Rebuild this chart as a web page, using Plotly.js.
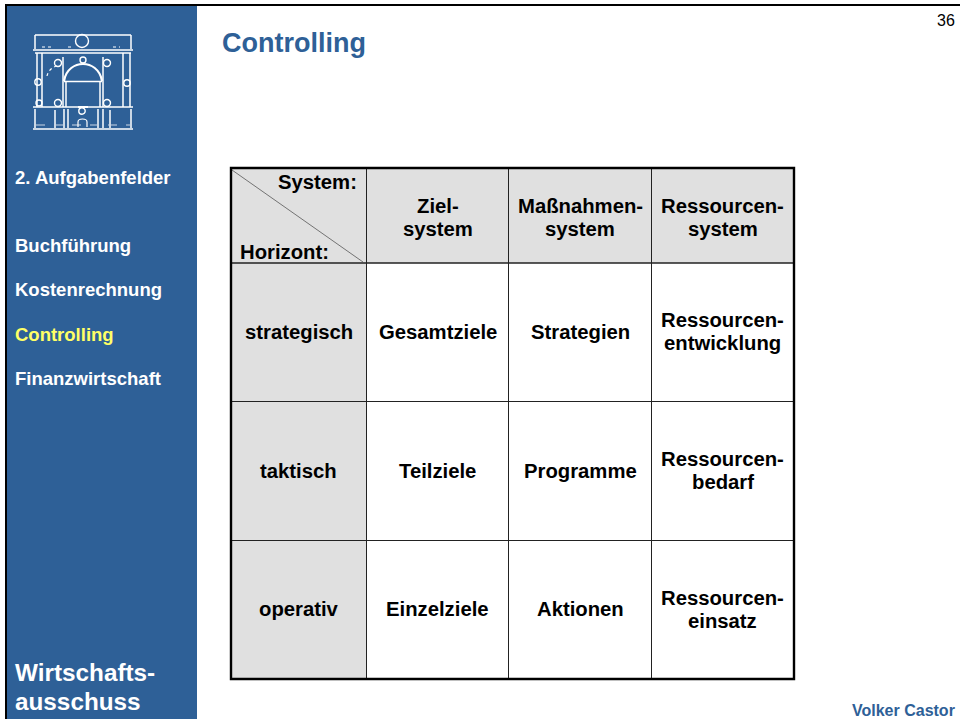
<!DOCTYPE html>
<html><head><meta charset="utf-8">
<script src="https://cdn.plot.ly/plotly-3.0.1.min.js"></script>
<style>html,body{margin:0;padding:0;background:#fff}#c{width:960px;height:719px}</style>
</head><body><div id="c"></div>
<script>
const columnHeaders = [["Ziel-","system"],["Maßnahmen-","system"],["Ressourcen-","system"]];
const rowHeaders = ["strategisch","taktisch","operativ"];
const row1 = [["Gesamtziele"],["Strategien"],["Ressourcen-","entwicklung"]];
const row2 = [["Teilziele"],["Programme"],["Ressourcen-","bedarf"]];
const row3 = [["Einzelziele"],["Aktionen"],["Ressourcen-","einsatz"]];
const navItems = ["Buchführung","Kostenrechnung","Controlling","Finanzwirtschaft"];
const navActive = "Controlling";
const sectionLabel = "2. Aufgabenfelder";
const footerLabel = ["Wirtschafts-","ausschuss"];

const xEdges=[231,366.5,508.5,651.5,794], yEdges=[168,263,401.5,540.5,679];
const BLUE='#2e6097', GREY='#e0e0e0', FS=20.3, W='#fff';
const FONT='"Liberation Sans",Arial,sans-serif';
const shapes=[], ann=[];
const rect=(x0,y0,x1,y1,fill)=>shapes.push({type:'rect',x0,y0,x1,y1,fillcolor:fill,line:{width:0},layer:'below'});
const line=(x0,y0,x1,y1,w,c,dash)=>shapes.push({type:'line',x0,y0,x1,y1,line:{color:c||'#000',width:w,dash:dash||'solid'}});
const txt=(x,y,text,size,color,anchor,weight)=>{
  const a=anchor||'center';
  ann.push({x:a==='left'?x-2:a==='right'?x+2:x,y,text,showarrow:false,xanchor:a,yanchor:'middle',align:a,
   font:{family:FONT,size,color:color||'#000',weight:weight||'bold'},xref:'x',yref:'y'});
};
const stack=(x,y,lines,gap,size,color,anchor)=>lines.forEach((t,i)=>txt(x,y+(i-(lines.length-1)/2)*gap,t,size,color,anchor));

rect(7,6,197,719,BLUE);
rect(xEdges[0],yEdges[0],xEdges[4],yEdges[1],GREY);
rect(xEdges[0],yEdges[0],xEdges[1],yEdges[4],GREY);
line(5,5,960,5,2); line(6,5,6,719,2);

for(const i of [1,2,3]){line(xEdges[i],yEdges[0],xEdges[i],yEdges[4],1,'#222');}
for(const i of [1,2,3]){line(xEdges[0],yEdges[i],xEdges[4],yEdges[i],i==1?1.6:1,'#222');}
line(232,170,363,262,0.7,'#444');
shapes.push({type:'rect',x0:xEdges[0],y0:yEdges[0],x1:xEdges[4],y1:yEdges[4],line:{color:'#000',width:2.4}});

const cx=i=>(xEdges[i]+xEdges[i+1])/2, cy=i=>(yEdges[i]+yEdges[i+1])/2;
columnHeaders.forEach((t,i)=>stack(cx(i+1),217,t,23,FS));
rowHeaders.forEach((t,i)=>txt(cx(0),cy(i+1)-0.5,t,FS));
[row1,row2,row3].forEach((r,j)=>r.forEach((t,i)=>stack(cx(i+1),cy(j+1)-0.5,t,23,FS)));
txt(357,182,'System:',FS,'#000','right');
txt(240,252,'Horizont:',FS,'#000','left');

txt(15,177.5,sectionLabel,18.5,W,'left');
navItems.forEach((t,i)=>txt(15,245+i*44.6,t,18.5,t===navActive?'#ffff66':W,'left'));
stack(15,686.5,footerLabel,29,24.3,W,'left');
txt(222,42.5,'Controlling',27,BLUE,'left');
txt(955,20,'36',16,'#000','right','normal');
txt(955,710,'Volker Castor',16,BLUE,'right');

// logo: portal outline
const logoLines=[[35,35,131,35],[35,35,35,49],[131,35,131,49],[33,50,133,50],[35,53,131,53],
[37,53,37,107],[42,53,42,107],[123,53,123,107],[130,53,130,107],[63,57,63,107],[103,57,103,107],
[64,81.5,102,81.5],[66,82,66,107],[100,82,100,107],[33,107,133,107],[35,109,35,128],[131,109,131,128],
[55,110,55,128],[64,109,64,128],[68,109,68,128],[98,109,98,128],[103,109,103,128],[110,110,110,128],[33,129,133,129]];
logoLines.forEach(l=>line(l[0],l[1],l[2],l[3],1.5,W));
line(36,125,130,125,1.2,'#c9d6e6','dash');
line(42,47,52,47,1,W,'dot'); line(68,47,74,47,1,W,'dot'); line(113,47,120,47,1,W,'dot');
line(78,107,88,107,2,W);
shapes.push({type:'path',path:'M64,81 C66,69 75,64 83,64 C91,64 100,69 102,81',line:{color:W,width:2.2}});
shapes.push({type:'path',path:'M47,76 C48,71 52,67 57,66',line:{color:W,width:1.2,dash:'dot'}});
shapes.push({type:'path',path:'M78,127 L78,122 C78,118 87,118 87,122 L87,127',line:{color:W,width:1.2}});
[[82,41,6.5],[58,63,3.5],[107,63,3.5],[83,60,3],[38,82,3.2],[127,83,3.2],[58,103,3.5],[107,103,3.5],[39,103,3],[82,111,3.2]].forEach(c=>
 shapes.push({type:'circle',x0:c[0]-c[2],x1:c[0]+c[2],y0:c[1]-c[2],y1:c[1]+c[2],line:{color:W,width:1.4}}));

Plotly.newPlot('c',[],{
  width:960,height:719,margin:{l:0,r:0,t:0,b:0},paper_bgcolor:'#fff',plot_bgcolor:'#fff',showlegend:false,
  xaxis:{range:[0,960],visible:false,fixedrange:true},
  yaxis:{range:[719,0],visible:false,fixedrange:true},
  shapes,annotations:ann
},{displayModeBar:false,staticPlot:true});
</script></body></html>
